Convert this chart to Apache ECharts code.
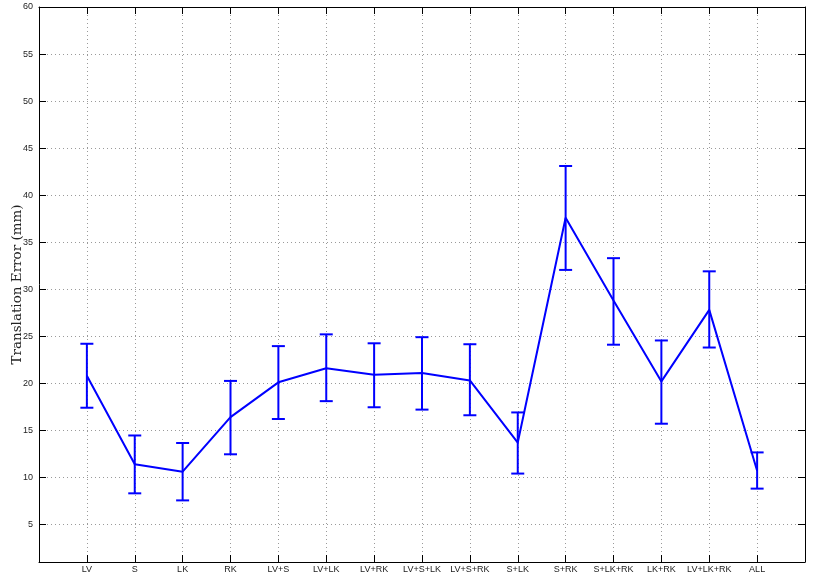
<!DOCTYPE html>
<html>
<head>
<meta charset="utf-8">
<script src="https://cdn.jsdelivr.net/npm/echarts@6/dist/echarts.min.js"></script>
<style>html,body{margin:0;padding:0;background:#fff;}#c{width:814px;height:575px;}</style>
</head>
<body>
<div id="c"></div>
<script>
const categories = ['LV','S','LK','RK','LV+S','LV+LK','LV+RK','LV+S+LK','LV+S+RK','S+LK','S+RK','S+LK+RK','LK+RK','LV+LK+RK','ALL'];
const meanValues = [20.8, 11.4, 10.6, 16.4, 20.1, 21.6, 20.9, 21.1, 20.3, 13.7, 37.6, 28.8, 20.2, 27.8, 10.7];
const lowerValues = [17.4, 8.3, 7.55, 12.45, 16.2, 18.1, 17.45, 17.2, 16.6, 10.4, 32.05, 24.1, 15.7, 23.8, 8.8];
const upperValues = [24.2, 14.45, 13.65, 20.25, 23.95, 25.2, 24.25, 24.9, 24.15, 16.9, 43.1, 33.3, 24.55, 31.9, 12.65];
const yTicks = [5,10,15,20,25,30,35,40,45,50,55,60];
const yTitle = 'Translation Error (mm)';

const lineData = categories.map((c, i) => [i + 1, meanValues[i]]);
const barData = categories.map((c, i) => [i + 1, lowerValues[i], upperValues[i]]);

const chart = echarts.init(document.getElementById('c'), null, {renderer: 'canvas'});
const font = 'Liberation Sans';
const gridLine = {show: true, lineStyle: {color: '#9a9a9a', type: [1, 3], width: 1}};
const tickIn = {show: true, inside: true, length: 7, lineStyle: {color: '#000', width: 1}};

chart.setOption({
  animation: false,
  backgroundColor: '#fff',
  grid: {left: 39, right: 9, top: 7, bottom: 13, containLabel: false, outerBoundsMode: 'none'},
  xAxis: [{
    type: 'value', min: 0, max: 16, interval: 1, position: 'bottom',
    axisLine: {show: true, onZero: false, lineStyle: {color: '#000', width: 1}},
    axisTick: tickIn,
    axisLabel: {show: true, margin: 3, fontSize: 9, fontFamily: font, color: '#222',
      formatter: v => (v >= 1 && v <= categories.length) ? categories[v - 1] : ''},
    splitLine: gridLine
  }, {
    type: 'value', min: 0, max: 16, interval: 1, position: 'top',
    axisLine: {show: true, onZero: false, lineStyle: {color: '#000', width: 1}},
    axisTick: tickIn, axisLabel: {show: false}, splitLine: {show: false}
  }],
  yAxis: [{
    type: 'value', min: 1, max: 60, position: 'left',
    name: yTitle, nameLocation: 'middle', nameGap: 15, nameMoveOverlap: false,
    nameTextStyle: {fontFamily: 'DejaVu Serif', fontSize: 13.5, color: '#222'},
    axisLine: {show: true, onZero: false, lineStyle: {color: '#000', width: 1}},
    axisTick: Object.assign({customValues: yTicks}, tickIn),
    axisLabel: {show: true, customValues: yTicks, margin: 6, fontSize: 9, fontFamily: font, color: '#222'},
    splitLine: gridLine
  }, {
    type: 'value', min: 1, max: 60, position: 'right',
    axisLine: {show: true, onZero: false, lineStyle: {color: '#000', width: 1}},
    axisTick: Object.assign({customValues: yTicks}, tickIn),
    axisLabel: {show: false}, splitLine: {show: false}
  }],
  series: [{
    type: 'line', data: lineData, symbol: 'none',
    lineStyle: {color: '#0000ff', width: 2}, z: 3
  }, {
    type: 'custom', data: barData, z: 4,
    renderItem: function (params, api) {
      const x = api.value(0);
      const lo = api.coord([x, api.value(1)]);
      const hi = api.coord([x, api.value(2)]);
      const w = 6.5;
      const style = {stroke: '#0000ff', lineWidth: 2, fill: null};
      return {type: 'group', children: [
        {type: 'line', shape: {x1: lo[0], y1: lo[1], x2: hi[0], y2: hi[1]}, style},
        {type: 'line', shape: {x1: lo[0] - w, y1: lo[1], x2: lo[0] + w, y2: lo[1]}, style},
        {type: 'line', shape: {x1: hi[0] - w, y1: hi[1], x2: hi[0] + w, y2: hi[1]}, style}
      ]};
    }
  }]
});
</script>
</body>
</html>
